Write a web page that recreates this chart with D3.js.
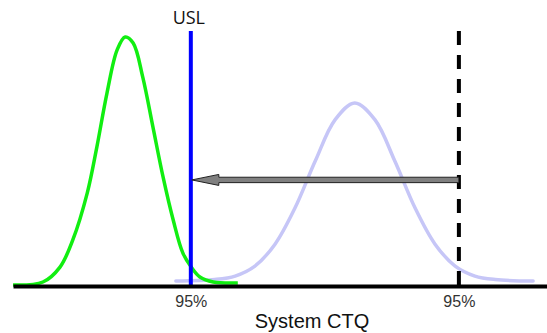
<!DOCTYPE html>
<html>
<head>
<meta charset="utf-8">
<script src="https://cdn.jsdelivr.net/npm/d3@7"></script>
<style>
  body { margin: 0; background: #fff; }
  svg { display: block; }
</style>
</head>
<body>
<div id="chart"></div>
<script>
// current process (green) - x in CTQ units, y relative density
const greenX = [0, 5.6, 8.8, 11.2, 13.9, 15.7, 17.6, 19.5, 21.0, 22.5, 24.3, 26.2, 28.1, 30.0, 31.8, 33.5, 35.0, 37.5, 42.1];
const greenY = [0.004, 0.016, 0.076, 0.185, 0.373, 0.558, 0.775, 0.948, 1.0, 0.976, 0.839, 0.639, 0.438, 0.265, 0.133, 0.072, 0.036, 0.016, 0.012];

// original process (pale blue)
const blueX = [30.5, 37.8, 41.6, 45.3, 49.1, 52.8, 56.6, 60.3, 64.0, 67.8, 71.5, 75.3, 79.0, 82.8, 86.5, 90.3, 97.4];
const blueY = [0.020, 0.026, 0.040, 0.080, 0.169, 0.313, 0.502, 0.667, 0.735, 0.667, 0.502, 0.313, 0.169, 0.080, 0.040, 0.026, 0.020];

// spec limits
const uslX = 33.3;
const oldX = 83.5;
const tickValues = [uslX, oldX];
const tickLabels = ["95%", "95%"];
const lineTop = 1.024;
const arrowY = 0.426;

const width = 547;
const height = 333;
const margin = { left: 13, right: 0, top: 37, bottom: 47 };

const svg = d3.select("#chart").append("svg")
    .attr("width", width)
    .attr("height", height);

const x = d3.scaleLinear().domain([0, 100]).range([margin.left, width - margin.right]);
const y = d3.scaleLinear().domain([0, 1]).range([height - margin.bottom, margin.top]);

const line = d3.line()
    .x(d => x(d[0]))
    .y(d => y(d[1]))
    .curve(d3.curveCatmullRom);

// blue curve (behind)
svg.append("path")
    .datum(d3.zip(blueX, blueY))
    .attr("fill", "none")
    .attr("stroke", "#c6c6f7")
    .attr("stroke-width", 3.5)
    .attr("stroke-linecap", "round")
    .attr("d", line);

// green curve
svg.append("path")
    .datum(d3.zip(greenX, greenY))
    .attr("fill", "none")
    .attr("stroke", "#11ee11")
    .attr("stroke-width", 3.5)
    .attr("stroke-linejoin", "round")
    .attr("d", line);

// dashed old limit
svg.append("line")
    .attr("x1", x(oldX)).attr("x2", x(oldX))
    .attr("y1", y(lineTop)).attr("y2", y(0))
    .attr("stroke", "#000")
    .attr("stroke-width", 4)
    .attr("stroke-dasharray", "14,10");

// USL line
svg.append("line")
    .attr("x1", x(uslX)).attr("x2", x(uslX))
    .attr("y1", y(lineTop)).attr("y2", y(0))
    .attr("stroke", "#0000ff")
    .attr("stroke-width", 4);

svg.append("text")
    .attr("x", x(uslX) - 2)
    .attr("y", 24)
    .attr("text-anchor", "middle")
    .attr("font-family", "'Open Sans', sans-serif")
    .attr("font-size", 18)
    .attr("fill", "#111")
    .text("USL");

// arrow from old limit to USL
const ay = y(arrowY);
const x0 = x(uslX) + 1, x1 = x(oldX);
const headLen = 27, headH = 5.5, shaftH = 2.7;
svg.append("path")
    .attr("d", `M${x0},${ay} L${x0 + headLen},${ay - headH} L${x0 + headLen},${ay - shaftH}
      L${x1},${ay - shaftH} L${x1},${ay + shaftH} L${x0 + headLen},${ay + shaftH}
      L${x0 + headLen},${ay + headH} Z`)
    .attr("fill", "#808080")
    .attr("stroke", "#222")
    .attr("stroke-width", 1);

// axis
const axis = svg.append("g")
    .attr("transform", `translate(0,${y(0)})`)
    .call(d3.axisBottom(x).tickValues(tickValues).tickFormat((d, i) => tickLabels[i]).tickSize(0).tickPadding(10));
axis.select(".domain").attr("stroke", "#000").attr("stroke-width", 4);
axis.selectAll("text")
    .attr("font-family", "'Liberation Sans', Arial, sans-serif")
    .attr("font-size", 16)
    .attr("fill", "#333");

svg.append("text")
    .attr("x", 312)
    .attr("y", 328)
    .attr("text-anchor", "middle")
    .attr("font-family", "'Liberation Sans', Arial, sans-serif")
    .attr("font-size", 20)
    .attr("fill", "#111")
    .text("System CTQ");
</script>
</body>
</html>
